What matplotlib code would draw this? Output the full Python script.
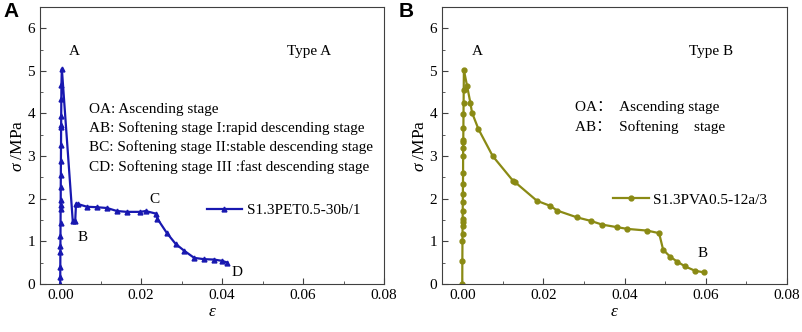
import matplotlib
matplotlib.use('Agg')
import matplotlib.pyplot as plt
from matplotlib.ticker import MultipleLocator

plt.rcParams['font.family'] = ['Liberation Serif', 'Noto Sans CJK SC']
plt.rcParams['mathtext.fontset'] = 'custom'
plt.rcParams['mathtext.rm'] = 'Liberation Serif'
plt.rcParams['mathtext.it'] = 'Liberation Serif:italic'

# Type A curve (S1.3PET0.5-30b/1)
strain_a = [0.0000, 0.00001, 0.00002, 0.00004, 0.00005, 0.00006, 0.00008, 0.0001, 0.00011,
            0.00012, 0.00013, 0.00015, 0.00017, 0.0002, 0.00022, 0.00023, 0.00024, 0.00027,
            0.0003, 0.0004,
            0.0031, 0.0037, 0.0039, 0.0045, 0.0066, 0.0090, 0.0116, 0.0140, 0.0165, 0.0198,
            0.0211, 0.0236, 0.0240, 0.0263, 0.0285, 0.0306, 0.0331, 0.0355, 0.0380, 0.0400,
            0.0413]
stress_a = [0.0, 0.17, 0.4, 0.75, 0.88, 1.12, 1.43, 1.75, 1.85,
            1.97, 2.28, 2.55, 2.88, 3.27, 3.68, 3.72, 3.95, 4.35,
            4.68, 5.05,
            1.47, 1.47, 1.88, 1.87, 1.81, 1.80, 1.78, 1.71, 1.69, 1.69,
            1.71, 1.65, 1.53, 1.20, 0.94, 0.78, 0.61, 0.58, 0.57, 0.54,
            0.50]

# Type B curve (S1.3PVA0.5-12a/3)
strain_b = [0.0000, 0.00002, 0.00005, 0.00006, 0.00008, 0.00009, 0.0001, 0.00011, 0.00013,
            0.00015, 0.00017, 0.0002, 0.00021, 0.00022, 0.00023, 0.00025, 0.00028, 0.0003,
            0.00033, 0.00036, 0.0004,
            0.0012, 0.0020, 0.0024, 0.0040, 0.0075, 0.0125, 0.0131, 0.0184, 0.0217, 0.0234,
            0.0283, 0.0316, 0.0345, 0.0382, 0.0407, 0.0456, 0.0485, 0.0495, 0.0512, 0.0530,
            0.0549, 0.0573, 0.0595]
stress_b = [0.0, 0.53, 1.01, 1.17, 1.37, 1.46, 1.52, 1.70, 1.93,
            2.12, 2.34, 2.60, 3.00, 3.18, 3.32, 3.38, 3.67, 3.98,
            4.24, 4.56, 5.02,
            4.64, 4.25, 4.02, 3.63, 3.00, 2.42, 2.38, 1.95, 1.83, 1.72,
            1.56, 1.48, 1.39, 1.33, 1.29, 1.25, 1.19, 0.80, 0.64, 0.52,
            0.41, 0.31, 0.27]

color_a = '#1818b0'
color_b = '#8a8a14'

fig = plt.figure(figsize=(8.03, 3.32), dpi=100)
ax1 = fig.add_axes([0.0498, 0.145, 0.4284, 0.834])
ax2 = fig.add_axes([0.5504, 0.145, 0.4296, 0.834])

for ax in (ax1, ax2):
    ax.set_xlim(-0.005, 0.08)
    ax.set_ylim(0, 6.5)
    ax.xaxis.set_major_locator(MultipleLocator(0.02))
    ax.xaxis.set_minor_locator(MultipleLocator(0.01))
    ax.yaxis.set_major_locator(MultipleLocator(1))
    ax.yaxis.set_minor_locator(MultipleLocator(0.5))
    ax.tick_params(which='both', direction='in', labelsize=11, color='#404040')
    ax.tick_params(which='major', length=4)
    ax.tick_params(which='minor', length=2.5)
    ax.set_xticks([0, 0.02, 0.04, 0.06, 0.08])
    ax.set_xticklabels(['0.00', '0.02', '0.04', '0.06', '0.08'])
    for s in ax.spines.values():
        s.set_color('#404040')
    ax.set_xlabel(r'$\varepsilon$', fontsize=12.5, labelpad=2)
    ax.set_ylabel(r'$\sigma$ /MPa', fontsize=12.5, labelpad=1)

ax1.plot(strain_a, stress_a, '-^', color=color_a, lw=1.6, ms=3.5, label='S1.3PET0.5-30b/1')
ax1.legend(loc='center left', bbox_to_anchor=(0.485, 0.265), frameon=False, fontsize=11,
           borderpad=0, borderaxespad=0, handlelength=2.3, handletextpad=0.3)
ax1.text(0.0036, 5.46, 'A', fontsize=11, ha='center', va='center')
ax1.text(0.0055, 1.1, 'B', fontsize=11, ha='center', va='center')
ax1.text(0.0234, 1.99, 'C', fontsize=11, ha='center', va='center')
ax1.text(0.0437, 0.27, 'D', fontsize=11, ha='center', va='center')
ax1.text(0.0615, 5.46, 'Type A', fontsize=11, ha='center', va='center')
stages_a = ['OA: Ascending stage',
            'AB: Softening stage I:rapid descending stage',
            'BC: Softening stage II:stable descending stage',
            'CD: Softening stage III :fast descending stage']
for i, s in enumerate(stages_a):
    ax1.text(0.0072, 4.1 - 0.45 * i, s, fontsize=11, ha='left', va='center')

ax2.plot(strain_b, stress_b, '-o', color=color_b, lw=1.6, ms=3.5, label='S1.3PVA0.5-12a/3')
ax2.legend(loc='center left', bbox_to_anchor=(0.497, 0.303), frameon=False, fontsize=11,
           borderpad=0, borderaxespad=0, handlelength=2.3, handletextpad=0.3)
ax2.text(0.0036, 5.46, 'A', fontsize=11, ha='center', va='center')
ax2.text(0.0592, 0.72, 'B', fontsize=11, ha='center', va='center')
ax2.text(0.0612, 5.46, 'Type B', fontsize=11, ha='center', va='center')
ax2.text(0.0277, 4.13, 'OA：  Ascending stage', fontsize=11, ha='left', va='center')
ax2.text(0.0277, 3.69, 'AB：  Softening    stage', fontsize=11, ha='left', va='center')

fig.text(0.004, 0.995, 'A', fontsize=15, fontweight='bold', family='Liberation Sans', va='top')
fig.text(0.496, 0.995, 'B', fontsize=15, fontweight='bold', family='Liberation Sans', va='top')

fig.savefig('out.png', dpi=100)
